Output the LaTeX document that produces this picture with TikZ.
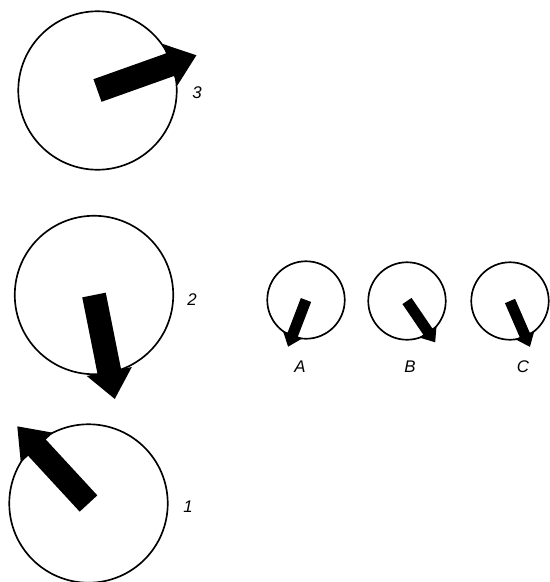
\documentclass[tikz,border=0pt]{standalone}
\usepackage{fontspec}
\setmainfont{Liberation Sans}
\usetikzlibrary{positioning}
\tikzset{
  dial/.style      = {circle, draw=black, line width=0.95pt, inner sep=0pt},
  bigdial/.style   = {dial, minimum size=3.17cm},
  smalldial/.style = {dial, minimum size=1.55cm},
  needle/.style    = {fill=black},
  lbl/.style       = {font=\fontsize{9.6}{11}\selectfont\itshape},
}
% needle: dial, angle, length, half shaft, half head, head length
\newcommand{\dialneedle}[6]{%
  \fill[needle, shift={(#1.center)}, rotate=#2]
    (0,-#4) -- ({#3-#6},-#4) -- ({#3-#6},-#5) -- (#3,0)
    -- ({#3-#6},#5) -- ({#3-#6},#4) -- (0,#4) -- cycle;}
\begin{document}
\begin{tikzpicture}[x=0.02cm,y=-0.02cm]
  \useasboundingbox (0,0) rectangle (550,582);
  % big dials
  \node[bigdial] (dial3) at (97.5,90.5) {};
  \node[bigdial] (dial2) at (94,295) {};
  \node[bigdial] (dial1) at (88.5,503.5) {};
  \dialneedle{dial3}{19.6}{105}{12}{22}{28}
  \dialneedle{dial2}{-78.7}{106}{12}{23}{28}
  \dialneedle{dial1}{132.7}{105}{12}{22}{29}
  \node[lbl] (lbl3) at (197,93) {3};
  \node[lbl] (lbl2) at (192,300) {2};
  \node[lbl] (lbl1) at (188,507) {1};
  % small dials
  \node[smalldial] (dialA) at (306,300) {};
  \node[smalldial] (dialB) at (407,301) {};
  \node[smalldial] (dialC) at (510,301) {};
  \dialneedle{dialA}{-111}{50}{5.5}{10.5}{13}
  \dialneedle{dialB}{-55.7}{50}{5.5}{10.5}{13}
  \dialneedle{dialC}{-66.5}{50}{5.5}{10.5}{13}
  \node[lbl] (lblA) at (300,367) {A};
  \node[lbl] (lblB) at (410,367) {B};
  \node[lbl] (lblC) at (523,367) {C};
\end{tikzpicture}
\end{document}
